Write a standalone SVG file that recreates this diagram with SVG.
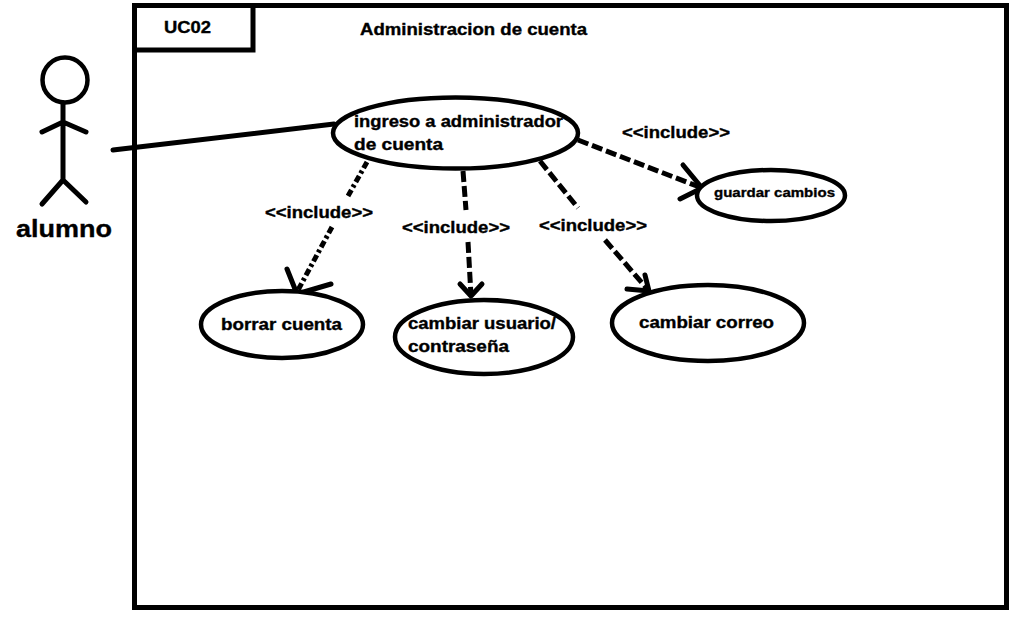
<svg xmlns="http://www.w3.org/2000/svg" width="1032" height="618" viewBox="0 0 1032 618">
<style>
text{font-family:"Liberation Sans",Arial,sans-serif;font-weight:700;fill:#000;font-size:16px;stroke:#000;stroke-width:.35}
.s{fill:none;stroke:#000;stroke-width:5;stroke-linecap:round;stroke-linejoin:round}
.e{fill:#fff;stroke:#000;stroke-width:4.500}
.d{fill:none;stroke:#000;stroke-width:5;stroke-dasharray:11 4}
.f{fill:none;stroke:#000;stroke-width:5;stroke-dasharray:7 3 3 3}
</style>
<rect width="1032" height="618" fill="#fff"/>
<g id="frame"><rect x="134.500" y="5.500" width="872" height="602" fill="#fff" stroke="#000" stroke-width="5"/><path d="M135 50H253V6" fill="none" stroke="#000" stroke-width="5"/><text x="164" y="33" textLength="47" lengthAdjust="spacingAndGlyphs">UC02</text><text x="360" y="35" textLength="227" lengthAdjust="spacingAndGlyphs">Administracion de cuenta</text></g>
<g id="connectors">
<path class="s" d="M113 150L334 124"/>
<path class="f" d="M367 162L348 196M332 227L297 292"/><path class="s" d="M287 269L297 294L331 284"/>
<path class="d" d="M463 171L466 210M468 242L471 296"/><path class="s" d="M460 284L471 296L482 284"/>
<path class="d" d="M540 161L578 208M605 240L649 291"/><path class="s" d="M627 289L649 291L645 275"/>
<path class="d" d="M578 140L702 188"/><path class="s" d="M683 165L702 188L680 199"/>
</g>
<g id="actor"><circle cx="65" cy="80" r="22.500" fill="#fff" stroke="#000" stroke-width="4.500"/><path class="s" d="M63 103V180M42 132L63 122L86 132M42 204L63 180L86 202"/><text x="16" y="237" style="font-size:24px" textLength="96" lengthAdjust="spacingAndGlyphs">alumno</text></g>
<g id="uc-ingreso"><ellipse class="e" cx="455.500" cy="133" rx="122.500" ry="35.500"/><text x="354" y="127" textLength="209" lengthAdjust="spacingAndGlyphs">ingreso a administrador</text><text x="354" y="150" textLength="89" lengthAdjust="spacingAndGlyphs">de cuenta</text></g>
<g id="uc-guardar"><ellipse class="e" cx="771" cy="195.500" rx="74" ry="25.500"/><text x="714" y="197" style="font-size:13px" textLength="121" lengthAdjust="spacingAndGlyphs">guardar cambios</text></g>
<g id="uc-borrar"><ellipse class="e" cx="282" cy="324.500" rx="81" ry="33.500"/><text x="221" y="330" textLength="121" lengthAdjust="spacingAndGlyphs">borrar cuenta</text></g>
<g id="uc-cambiar-usuario"><ellipse class="e" cx="484" cy="337" rx="89" ry="37"/><text x="408" y="329" textLength="148" lengthAdjust="spacingAndGlyphs">cambiar usuario/</text><text x="408" y="352" textLength="101" lengthAdjust="spacingAndGlyphs">contraseña</text></g>
<g id="uc-cambiar-correo"><ellipse class="e" cx="708" cy="323" rx="96" ry="38"/><text x="639" y="328" textLength="135" lengthAdjust="spacingAndGlyphs">cambiar correo</text></g>
<g id="labels"><text x="622" y="138" textLength="108" lengthAdjust="spacingAndGlyphs">&lt;&lt;include&gt;&gt;</text><text x="265" y="218" textLength="108" lengthAdjust="spacingAndGlyphs">&lt;&lt;include&gt;&gt;</text><text x="402" y="233" textLength="108" lengthAdjust="spacingAndGlyphs">&lt;&lt;include&gt;&gt;</text><text x="539" y="231" textLength="108" lengthAdjust="spacingAndGlyphs">&lt;&lt;include&gt;&gt;</text></g>
</svg>
